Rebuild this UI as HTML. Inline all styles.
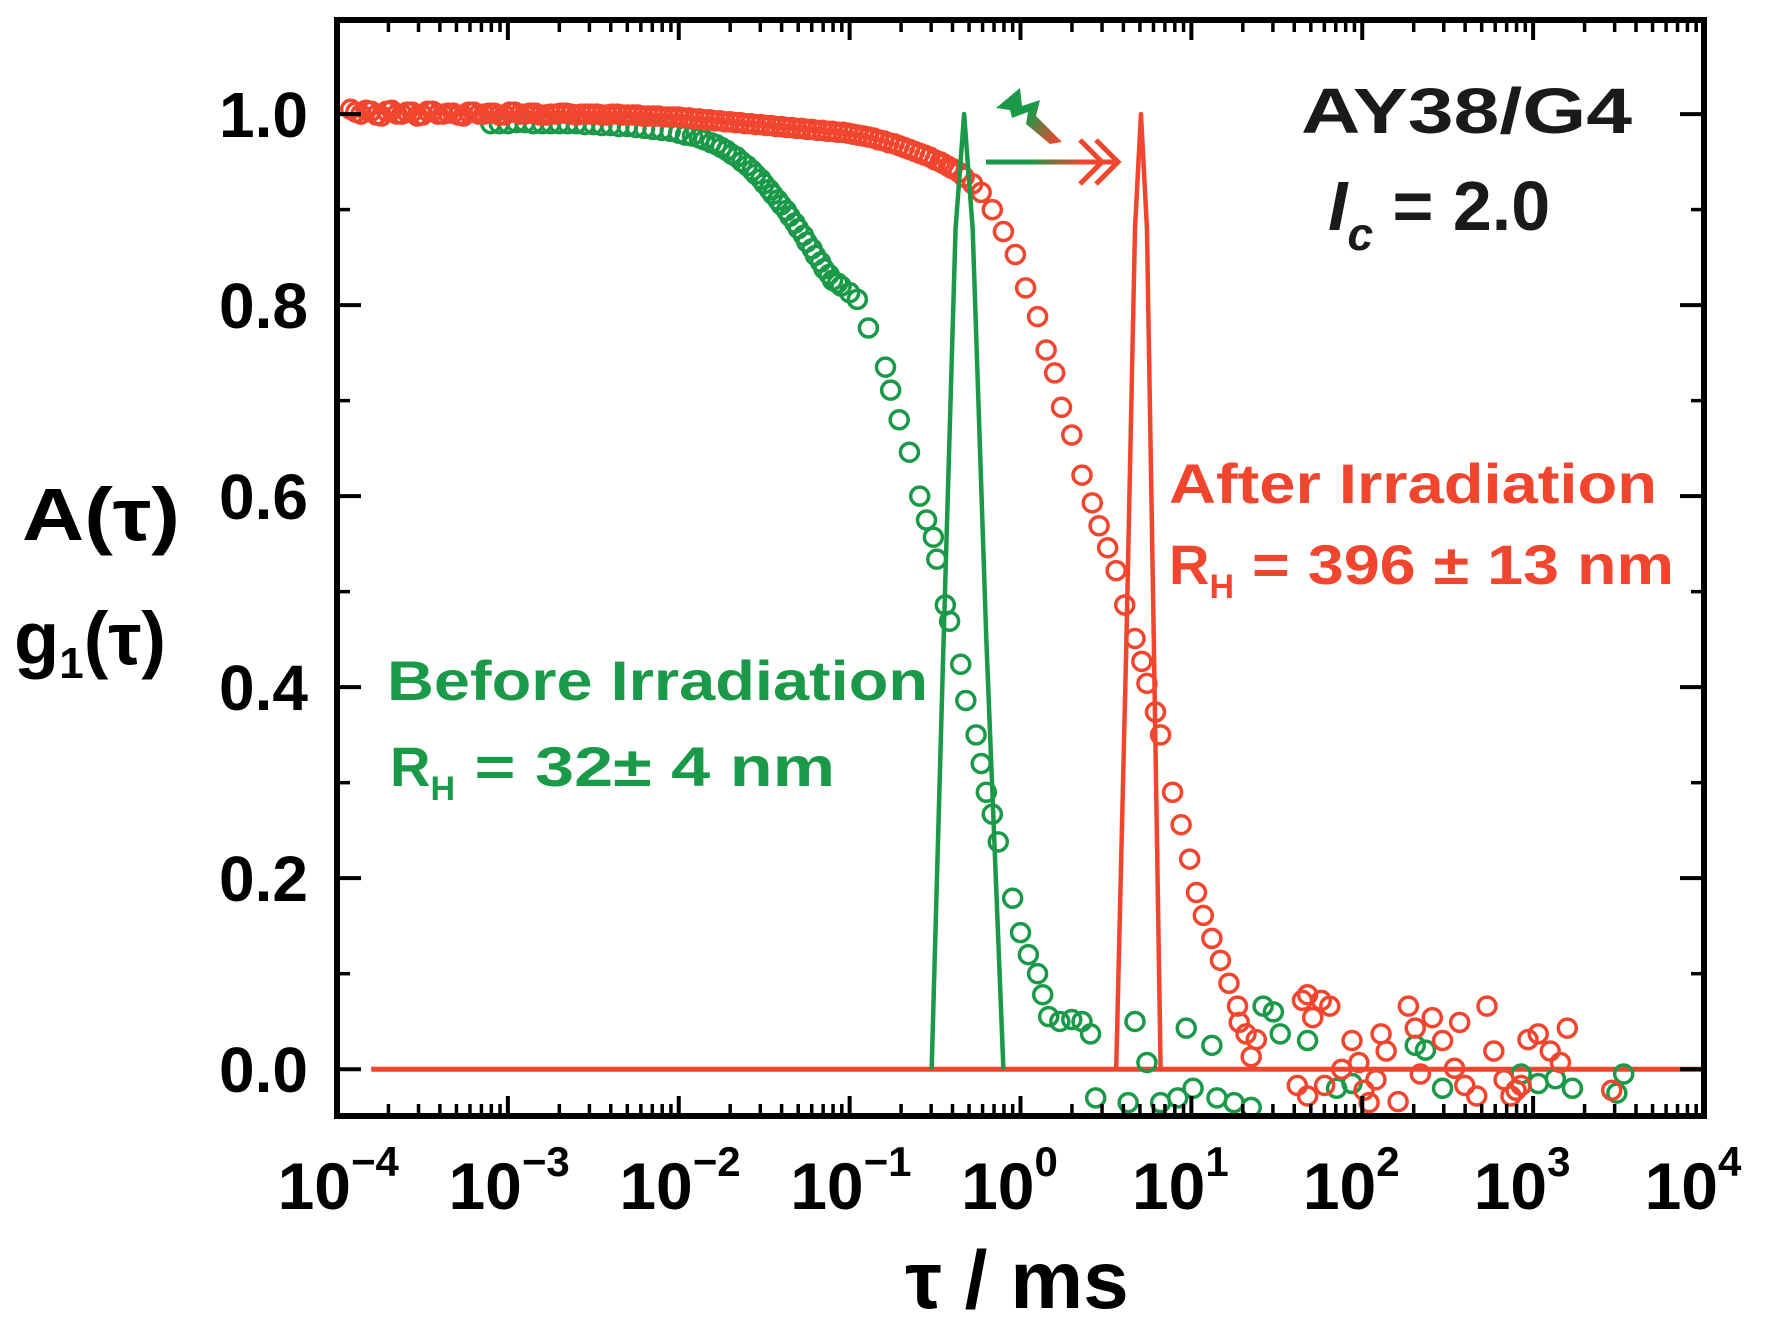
<!DOCTYPE html>
<html><head><meta charset="utf-8"><style>
html,body{margin:0;padding:0;background:#fff;}
svg{display:block;}
text{font-family:"Liberation Sans",Arial,sans-serif;font-weight:bold;}
</style></head><body>
<svg id="chart" width="1771" height="1335" viewBox="0 0 1771 1335" xmlns="http://www.w3.org/2000/svg">
<defs>
<linearGradient id="arrGrad" gradientUnits="userSpaceOnUse" x1="986" y1="162" x2="1114" y2="162">
<stop offset="0" stop-color="#1a9a48"/><stop offset="0.35" stop-color="#1a9a48"/><stop offset="0.75" stop-color="#f2452e"/><stop offset="1" stop-color="#f2452e"/>
</linearGradient>
<linearGradient id="boltGrad" gradientUnits="userSpaceOnUse" x1="1000" y1="95" x2="1058" y2="142">
<stop offset="0" stop-color="#1a9a48"/><stop offset="0.45" stop-color="#1a9a48"/><stop offset="1" stop-color="#f2452e"/>
</linearGradient>
</defs>
<g id="marks"></g>
<g id="axes"></g>
<text x="22" y="540" font-size="74" textLength="158" lengthAdjust="spacingAndGlyphs">A(τ)</text>
<text x="14" y="664" font-size="74">g<tspan font-size="44" dy="14">1</tspan><tspan dy="-14">(τ)</tspan></text>
<text x="1017" y="1308" font-size="82" text-anchor="middle">τ / ms</text>
<text x="1301" y="133" font-size="64" fill="#1a1a1a" textLength="331" lengthAdjust="spacingAndGlyphs">AY38/G4</text>
<text x="1328" y="230" font-size="70" fill="#1a1a1a"><tspan font-style="italic">I</tspan><tspan font-size="46" font-style="italic" dy="20">c</tspan><tspan dy="-20"> = 2.0</tspan></text>
<text x="1169" y="503" font-size="56" fill="#f2452e" textLength="488" lengthAdjust="spacingAndGlyphs">After Irradiation</text>
<text x="1169" y="584" font-size="56" fill="#f2452e">R<tspan font-size="34" dy="14">H</tspan><tspan dy="-14" textLength="440" lengthAdjust="spacingAndGlyphs"> = 396 ± 13 nm</tspan></text>
<text x="387" y="700" font-size="56" fill="#1a9a48" textLength="541" lengthAdjust="spacingAndGlyphs">Before Irradiation</text>
<text x="390" y="786" font-size="56" fill="#1a9a48">R<tspan font-size="34" dy="14">H</tspan><tspan dy="-14" textLength="380" lengthAdjust="spacingAndGlyphs"> = 32± 4 nm</tspan></text>
<g>
<line x1="986" y1="162" x2="1114" y2="162" stroke="url(#arrGrad)" stroke-width="5"/>
<polyline points="1080,140 1102,162 1080,184" fill="none" stroke="#f2452e" stroke-width="5"/>
<polyline points="1096,140 1118,162 1096,184" fill="none" stroke="#f2452e" stroke-width="5"/>
</g>
<polygon points="996,108 1020,88 1022,106 1040,100 1036,116 1062,142 1050,144 1026,124 1028,112 1012,118 1010,110" fill="url(#boltGrad)"/>
</svg>
<script>
var xTickLabels = ["-4","-3","-2","-1","0","1","2","3","4"];
var yTickLabels = ["0.0","0.2","0.4","0.6","0.8","1.0"];
var yTickValues = [0,0.2,0.4,0.6,0.8,1.0];
var redLogTau = [-3.92,-3.89,-3.86,-3.83,-3.80,-3.77,-3.74,-3.71,-3.68,-3.65,-3.62,-3.59,-3.56,-3.53,-3.50,-3.47,-3.44,-3.41,-3.38,-3.35,-3.32,-3.29,-3.26,-3.23,-3.20,-3.17,-3.14,-3.11,-3.08,-3.05,-3.02,-2.99,-2.96,-2.93,-2.90,-2.87,-2.84,-2.81,-2.78,-2.75,-2.72,-2.69,-2.66,-2.63,-2.60,-2.57,-2.54,-2.51,-2.48,-2.45,-2.42,-2.39,-2.36,-2.33,-2.30,-2.27,-2.24,-2.21,-2.18,-2.15,-2.12,-2.09,-2.06,-2.03,-2.00,-1.97,-1.94,-1.91,-1.88,-1.85,-1.82,-1.79,-1.76,-1.73,-1.70,-1.67,-1.64,-1.61,-1.58,-1.55,-1.52,-1.49,-1.46,-1.43,-1.40,-1.37,-1.34,-1.31,-1.28,-1.25,-1.22,-1.19,-1.16,-1.13,-1.10,-1.07,-1.04,-1.01,-0.98,-0.95,-0.92,-0.89,-0.86,-0.83,-0.80,-0.77,-0.74,-0.71,-0.68,-0.65,-0.62,-0.59,-0.56,-0.53,-0.50,-0.47,-0.45,-0.42,-0.40,-0.36,-0.33,-0.28,-0.23,-0.165,-0.1,-0.03,0.03,0.1,0.15,0.2,0.24,0.3,0.36,0.42,0.46,0.51,0.56,0.61,0.67,0.71,0.74,0.79,0.82,0.89,0.94,0.99,1.03,1.07,1.12,1.17,1.22,1.27,1.28,1.32,1.35,1.38,1.62,1.65,1.68,1.68,1.71,1.76,1.78,1.81,1.88,1.94,1.98,2.01,2.04,2.08,2.11,2.14,2.21,2.27,2.31,2.34,2.41,2.47,2.54,2.57,2.6,2.67,2.73,2.77,2.83,2.87,2.9,2.93,2.97,3.03,3.1,3.16,3.2,3.46];
var redValues = [1.005,1.002,1.0,1.004,1.003,0.999,0.998,1.003,1.004,1.0,1.0,1.002,1.002,0.998,0.999,1.003,1.003,1.0,1.0,1.001,1.001,0.999,0.998,1.002,1.002,1.0,1.0,1.001,1.001,0.999,0.999,1.002,1.002,1.0,1.0,1.001,1.001,0.999,0.999,1.0,1.0,1.001,1.001,1.0,0.999,1.0,1.0,1.0,1.0,0.999,0.999,1.0,1.0,0.999,0.999,0.999,0.999,0.998,0.998,0.998,0.998,0.997,0.997,0.997,0.997,0.996,0.996,0.995,0.995,0.994,0.994,0.993,0.993,0.992,0.992,0.991,0.991,0.990,0.990,0.989,0.989,0.988,0.988,0.987,0.987,0.986,0.986,0.985,0.985,0.984,0.984,0.983,0.983,0.982,0.982,0.981,0.981,0.980,0.979,0.978,0.977,0.976,0.975,0.973,0.972,0.970,0.969,0.967,0.965,0.963,0.961,0.959,0.957,0.955,0.952,0.950,0.948,0.945,0.943,0.939,0.934,0.927,0.918,0.9,0.877,0.853,0.818,0.788,0.753,0.729,0.693,0.664,0.622,0.593,0.569,0.546,0.522,0.486,0.451,0.427,0.404,0.374,0.35,0.29,0.256,0.22,0.185,0.161,0.137,0.114,0.09,0.066,0.049,0.037,0.013,0.031,-0.017,0.072,0.078,-0.028,0.054,0.072,-0.017,0.066,0.0,0.03,0.007,-0.022,-0.035,-0.011,0.037,0.019,-0.034,0.066,0.043,-0.005,0.054,0.03,0.001,0.049,-0.017,-0.028,0.066,0.019,-0.011,-0.028,-0.022,-0.017,0.031,0.037,0.019,0.007,0.043,-0.022];
var greenLogTau = [-3.10,-3.05,-3.0,-2.95,-2.9,-2.85,-2.8,-2.75,-2.7,-2.65,-2.6,-2.55,-2.5,-2.45,-2.4,-2.35,-2.3,-2.25,-2.2,-2.15,-2.1,-2.05,-2.0,-1.96,-1.92,-1.88,-1.85,-1.81,-1.78,-1.75,-1.72,-1.69,-1.66,-1.63,-1.60,-1.57,-1.55,-1.52,-1.50,-1.47,-1.45,-1.42,-1.40,-1.37,-1.35,-1.32,-1.30,-1.27,-1.25,-1.22,-1.20,-1.17,-1.15,-1.12,-1.10,-1.07,-1.05,-1.0,-0.955,-0.89,-0.79,-0.76,-0.71,-0.65,-0.59,-0.55,-0.51,-0.49,-0.44,-0.415,-0.35,-0.32,-0.26,-0.23,-0.2,-0.165,-0.13,-0.046,0.0,0.046,0.1,0.13,0.165,0.23,0.30,0.36,0.41,0.44,0.63,0.67,0.74,0.82,0.92,0.97,1.01,1.12,1.15,1.25,1.35,1.42,1.48,1.52,1.68,1.85,1.94,2.31,2.37,2.47,2.93,3.03,3.13,3.23,3.49,3.53];
var greenValues = [0.99,0.99,0.99,0.991,0.991,0.99,0.99,0.99,0.99,0.99,0.99,0.989,0.989,0.988,0.988,0.987,0.987,0.986,0.985,0.984,0.983,0.982,0.98,0.978,0.977,0.975,0.973,0.970,0.968,0.965,0.962,0.958,0.955,0.950,0.946,0.941,0.937,0.932,0.927,0.921,0.916,0.910,0.905,0.899,0.893,0.886,0.88,0.873,0.866,0.859,0.852,0.845,0.838,0.832,0.826,0.823,0.82,0.813,0.806,0.776,0.735,0.711,0.68,0.646,0.6,0.575,0.557,0.534,0.486,0.469,0.424,0.386,0.35,0.32,0.29,0.267,0.238,0.179,0.143,0.12,0.1,0.078,0.055,0.05,0.052,0.05,0.037,-0.03,-0.035,0.05,0.007,-0.035,-0.03,0.043,-0.02,0.025,-0.03,-0.035,-0.04,0.066,0.06,0.037,0.03,-0.02,-0.015,0.025,0.02,-0.02,-0.005,-0.015,-0.01,-0.02,-0.025,-0.005];
var greenDistLogTau = [-0.52,-0.45,-0.38,-0.33,-0.28,-0.20,-0.10];
var greenDistValues = [0,0.45,0.88,1.0,0.88,0.45,0];
var redDistLogTau = [0.56,0.62,0.67,0.705,0.74,0.78,0.82];
var redDistValues = [0,0.45,0.88,1.0,0.88,0.45,0];

var NS="http://www.w3.org/2000/svg";
var L=337,R=1704,T=20,B=1116;
var XMIN=-4,XMAX=4,YMIN=-0.049,YMAX=1.0985;
function sx(v){return L+(v-XMIN)/(XMAX-XMIN)*(R-L);}
function sy(v){return B-(v-YMIN)/(YMAX-YMIN)*(B-T);}
function mk(tag,attrs,parent){var e=document.createElementNS(NS,tag);for(var k in attrs)e.setAttribute(k,attrs[k]);parent.appendChild(e);return e;}
var marks=document.getElementById('marks'),axes=document.getElementById('axes');

var zl=mk('line',{x1:sx(-3.8),x2:R,y1:sy(0),y2:sy(0),stroke:'#f2452e','stroke-width':5},marks);



function drawDist(xs,ys,color,name){
  var pts=[];for(var i=0;i<xs.length;i++)pts.push(sx(xs[i])+','+sy(ys[i]));
  var p=mk('polyline',{points:pts.join(' '),fill:'none',stroke:color,'stroke-width':4.5,'stroke-linejoin':'round'},marks);
  
  
}
function drawPts(xs,ys,color,name){
  var g=mk('g',{},marks);
  
  
  for(var i=0;i<xs.length;i++){
    var c=mk('circle',{cx:sx(xs[i]),cy:sy(ys[i]),r:9,fill:'none',stroke:color,'stroke-width':3.5},g);
    
    
  }
}
drawPts(greenLogTau,greenValues,'#1a9a48','before-correlation-points');
drawPts(redLogTau,redValues,'#f2452e','after-correlation-points');
drawDist(greenDistLogTau,greenDistValues,'#1a9a48','before-size-distribution');
drawDist(redDistLogTau,redDistValues,'#f2452e','after-size-distribution');

var fr=mk('rect',{x:L,y:T,width:R-L,height:B-T,fill:'none',stroke:'#000','stroke-width':6},axes);


for(var d=0;d<xTickLabels.length;d++){
  var lv=parseFloat(xTickLabels[d]);
  var x=sx(lv);
  mk('line',{x1:x,x2:x,y1:B,y2:B-20,stroke:'#000','stroke-width':4},axes);
  mk('line',{x1:x,x2:x,y1:T,y2:T+20,stroke:'#000','stroke-width':4},axes);
  if(d<xTickLabels.length-1){
    for(var m=2;m<10;m++){var xm=sx(lv+Math.log10(m));
      mk('line',{x1:xm,x2:xm,y1:B,y2:B-12,stroke:'#000','stroke-width':3.5},axes);
      mk('line',{x1:xm,x2:xm,y1:T,y2:T+12,stroke:'#000','stroke-width':3.5},axes);}
  }
  var t=mk('text',{x:x+14,y:1209,'font-size':66,'text-anchor':'end'},axes);
  
  
  t.textContent='10';
  var s=mk('text',{x:x+14,y:1176,'font-size':42},axes);
  
  
  s.textContent=xTickLabels[d].replace('-','\u2212');
}
for(var j=0;j<yTickValues.length;j++){
  var y=sy(yTickValues[j]);
  mk('line',{x1:L,x2:L+24,y1:y,y2:y,stroke:'#000','stroke-width':4},axes);
  mk('line',{x1:R,x2:R-24,y1:y,y2:y,stroke:'#000','stroke-width':4},axes);
  var ym=sy(yTickValues[j]+0.1);
  if(yTickValues[j]+0.1<1.09){
    mk('line',{x1:L,x2:L+13,y1:ym,y2:ym,stroke:'#000','stroke-width':3.5},axes);
    mk('line',{x1:R,x2:R-13,y1:ym,y2:ym,stroke:'#000','stroke-width':3.5},axes);}
  var ty=mk('text',{x:308,y:y+23,'font-size':64,'text-anchor':'end'},axes);
  
  
  ty.textContent=yTickLabels[j];
}
</script>
</body></html>
